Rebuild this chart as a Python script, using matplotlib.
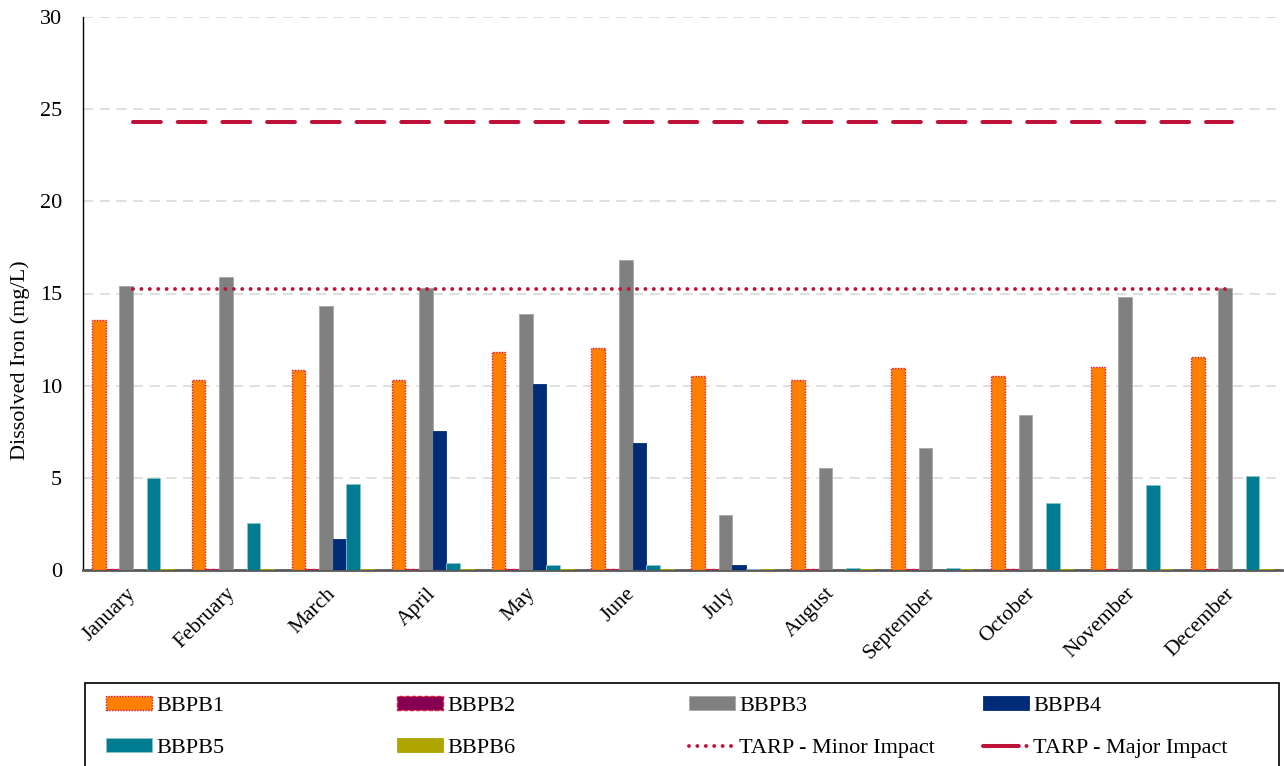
import matplotlib
matplotlib.use("Agg")
import matplotlib.pyplot as plt
from matplotlib.patches import Patch, Rectangle
from matplotlib.lines import Line2D
import numpy as np

plt.rcParams['font.family'] = ['Liberation Serif', 'DejaVu Serif']

months = ["January", "February", "March", "April", "May", "June",
          "July", "August", "September", "October", "November", "December"]

bbpb1 = [13.55, 10.3, 10.85, 10.3, 11.83, 12.05, 10.5, 10.3, 10.95, 10.5, 11.0, 11.55]
bbpb2 = [0.06, 0.06, 0.06, 0.06, 0.06, 0.06, 0.06, 0.06, 0.06, 0.06, 0.06, 0.06]
bbpb3 = [15.4, 15.9, 14.3, 15.3, 13.9, 16.8, 3.0, 5.52, 6.6, 8.4, 14.8, 15.3]
bbpb4 = [0.02, 0.02, 1.68, 7.52, 10.1, 6.88, 0.25, 0.02, 0.02, 0.02, 0.02, 0.02]
bbpb5 = [5.0, 2.55, 4.68, 0.37, 0.27, 0.27, 0.06, 0.12, 0.12, 3.65, 4.62, 5.08]
bbpb6 = [0.03, 0.03, 0.03, 0.03, 0.03, 0.03, 0.03, 0.03, 0.03, 0.06, 0.03, 0.03]

tarp_minor = 15.25
tarp_major = 24.3

series = [
    ("BBPB1", bbpb1, dict(facecolor="#FF8000", edgecolor="#D8143A", linestyle=(0, (1, 1)), linewidth=1.0)),
    ("BBPB2", bbpb2, dict(facecolor="#850052", edgecolor="#D8143A", linestyle=(0, (3, 1.5)), linewidth=1.0)),
    ("BBPB3", bbpb3, dict(facecolor="#808080", edgecolor="#A6A6A6", linewidth=0.6)),
    ("BBPB4", bbpb4, dict(facecolor="#002C77", edgecolor="#002C77", linewidth=0.6)),
    ("BBPB5", bbpb5, dict(facecolor="#007C91", edgecolor="#8EC3CE", linewidth=0.6)),
    ("BBPB6", bbpb6, dict(facecolor="#AFA500", edgecolor="#AFA500", linewidth=0.6)),
]

FS = 16

fig = plt.figure(figsize=(12.84, 7.66), dpi=100)
ax = fig.add_axes([83 / 1284, 1 - 570 / 766, (1282 - 83) / 1284, (570 - 17) / 766])

x = np.arange(len(months))
bw = 0.137
for i, (name, vals, style) in enumerate(series):
    ax.bar(x + (i - 2.5) * bw, vals, width=bw, zorder=3, **style)

line_color = "#BE1238"
minor_style = dict(color=line_color, linestyle=(0, (0.01, 2.15)), linewidth=2.8,
                   dash_capstyle="round")
major_style = dict(color=line_color, linestyle=(0, (6.9, 4.2)), linewidth=2.9,
                   dash_capstyle="round")
ax.plot(x, [tarp_minor] * len(x), zorder=4, **minor_style)
ax.plot(x, [tarp_major] * len(x), zorder=4, **major_style)

ax.set_xlim(-0.5, 11.5)
ax.set_ylim(0, 30)
ax.set_yticks(np.arange(0, 31, 5))
ax.yaxis.grid(True, color="#D9D9D9", linestyle=(0, (6, 4)), linewidth=1.2, zorder=0)
ax.set_axisbelow(True)

for s in ("top", "right"):
    ax.spines[s].set_visible(False)
ax.spines["left"].set_color("black")
ax.spines["left"].set_linewidth(1.0)
ax.spines["bottom"].set_color("#595959")
ax.spines["bottom"].set_linewidth(2.0)

ax.tick_params(axis="y", length=0, pad=15, labelsize=FS)
ax.tick_params(axis="x", length=0, pad=15, labelsize=15.5)
ax.set_xticks(x)
ax.set_xticklabels(months, rotation=45, ha="right", va="center", rotation_mode="anchor")
ax.set_ylabel("Dissolved Iron (mg/L)", fontsize=FS, va="center")
ax.yaxis.set_label_coords((20 - 83) / 1199, (570 - 360) / 553)

# Legend: framed box with four columns
fx0 = 85 / 1284
fw = (1279 - 85) / 1284
fig.patches.append(Rectangle((fx0, -0.01), fw, (766 - 683) / 766 + 0.01,
                             transform=fig.transFigure,
                             facecolor="white", edgecolor="black", linewidth=1.2))

handles = {}
for name, vals, style in series:
    handles[name] = Patch(**style)
handles["TARP - Minor Impact"] = Line2D([], [], **minor_style)
handles["TARP - Major Impact"] = Line2D([], [], color=line_color,
                                        linestyle=(0, (8.9, 1.9, 0.01, 10)),
                                        linewidth=2.9, dash_capstyle="round")

columns = [
    (106, ["BBPB1", "BBPB5"]),
    (397, ["BBPB2", "BBPB6"]),
    (689, ["BBPB3", "TARP - Minor Impact"]),
    (983, ["BBPB4", "TARP - Major Impact"]),
]
for xpix, labels in columns:
    fig.legend([handles[l] for l in labels], labels,
               loc="upper left", bbox_to_anchor=(xpix / 1284, 1 - 696 / 766),
               frameon=False, fontsize=FS, handlelength=2.05, handleheight=0.6,
               handletextpad=0.2, labelspacing=1.0, borderpad=0, borderaxespad=0)

fig.savefig("out.png", dpi=100)
